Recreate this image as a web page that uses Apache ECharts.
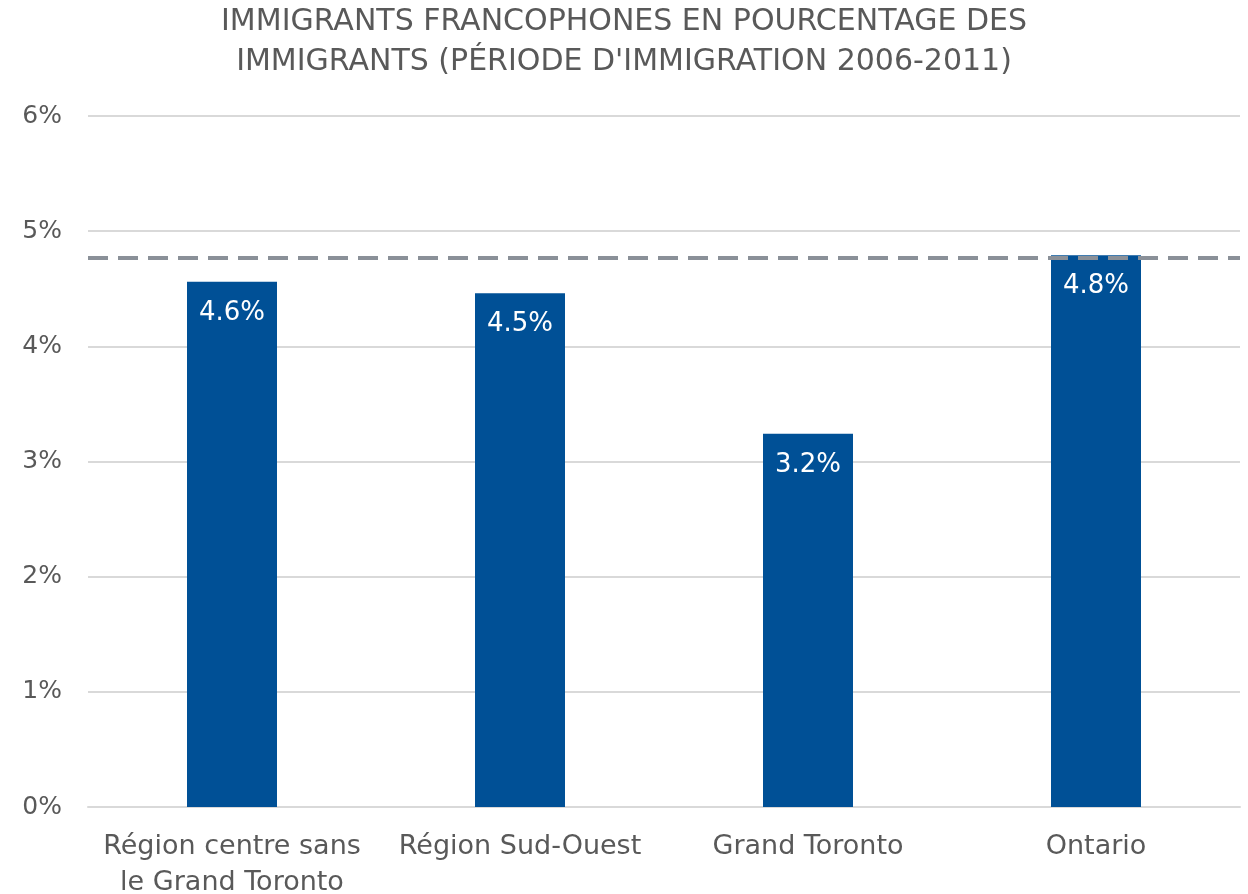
<!DOCTYPE html>
<html>
<head>
<meta charset="utf-8">
<script src="https://cdn.jsdelivr.net/npm/echarts@6/dist/echarts.min.js"></script>
<style>
  html, body { margin: 0; padding: 0; background: #fff; }
  #chart { width: 1248px; height: 894px; }
</style>
</head>
<body>
<div id="chart"></div>
<script>
const categories = ['Région centre sans\nle Grand Toronto', 'Région Sud-Ouest', 'Grand Toronto', 'Ontario'];
const values = [4.56, 4.46, 3.24, 4.79];
const labels = ['4.6%', '4.5%', '3.2%', '4.8%'];
const ontarioLine = 4.77;
const yTicks = [0, 1, 2, 3, 4, 5, 6];

const font = '"DejaVu Sans", sans-serif';
const textColor = '#595959';

const chart = echarts.init(document.getElementById('chart'));
chart.setOption({
  animation: false,
  title: {
    text: 'IMMIGRANTS FRANCOPHONES EN POURCENTAGE DES\nIMMIGRANTS (PÉRIODE D\'IMMIGRATION 2006-2011)',
    left: 'center',
    top: -3,
    textStyle: { fontFamily: font, fontWeight: 'normal', fontSize: 30, color: textColor, lineHeight: 40 }
  },
  grid: { left: 88, right: 8, top: 116, bottom: 87, containLabel: false, outerBoundsMode: 'none' },
  xAxis: {
    type: 'category',
    data: categories,
    axisLine: { lineStyle: { color: '#d9d9d9', width: 2 } },
    axisTick: { show: false },
    axisLabel: { fontFamily: font, fontSize: 27, color: textColor, margin: 22, lineHeight: 36, interval: 0 }
  },
  yAxis: {
    type: 'value',
    min: yTicks[0],
    max: yTicks[yTicks.length - 1],
    interval: 1,
    axisLine: { show: false },
    axisTick: { show: false },
    splitLine: { lineStyle: { color: '#d9d9d9', width: 2 } },
    axisLabel: { fontFamily: font, fontSize: 25, color: textColor, margin: 26, formatter: v => v + '%' }
  },
  series: [{
    type: 'bar',
    data: values,
    barWidth: 90,
    itemStyle: { color: '#005096' },
    label: {
      show: true,
      position: 'insideTop',
      distance: 18,
      color: '#fff',
      fontFamily: font,
      fontSize: 26,
      formatter: p => labels[p.dataIndex]
    },
    markLine: {
      silent: true,
      symbol: 'none',
      label: { show: false },
      lineStyle: { type: [20, 10], color: '#8a9098', width: 4 },
      data: [{ yAxis: ontarioLine }]
    }
  }]
});
</script>
</body>
</html>
